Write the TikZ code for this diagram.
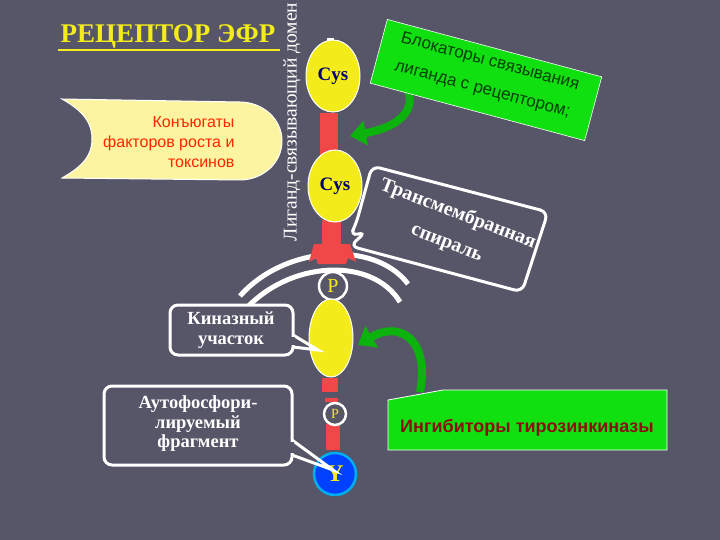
\documentclass[tikz,border=0pt]{standalone}
\usepackage{fontspec}
\setmainfont{Liberation Serif}
\newfontfamily\sansf{Liberation Sans}
\usetikzlibrary{arrows.meta,shapes.geometric,calc}
\definecolor{bg}{HTML}{565668}
\definecolor{ylw}{HTML}{F4EC1A}
\definecolor{pale}{HTML}{FCF4A0}
\definecolor{rd}{HTML}{F04848}
\definecolor{grn}{HTML}{10E010}
\definecolor{dred}{HTML}{8A1010}
\begin{document}
\begin{tikzpicture}[x=1pt,y=-1pt,
  cys/.style={ellipse,fill=ylw,draw=white,line width=1pt,minimum width=54pt,minimum height=72pt,inner sep=0pt,font=\bfseries\fontsize{19}{19}\selectfont,text=blue!40!black},
  pcirc/.style={circle,draw=white,line width=2.5pt,fill=bg,text=ylw,inner sep=0pt},
  callout/.style={draw=white,line width=3pt,fill=bg,rounded corners=8pt},
  calltext/.style={text=white,font=\bfseries\fontsize{18.5}{19.5}\selectfont,align=center},
  bar/.style={fill=rd},
  mem/.style={draw=white,line width=5pt},
  tmtext/.style={rotate=-21,text=white,font=\bfseries\fontsize{20}{20}\selectfont},
  blktext/.style={rotate=-15,text=green!25!black,font=\sansf\fontsize{17}{17}\selectfont}
]
\useasboundingbox (0,0) rectangle (720,540);
\fill[bg] (0,0) rectangle (720,540);

% title
\node[text=ylw,font=\bfseries\fontsize{27}{27}\selectfont] (title) at (168,36) {РЕЦЕПТОР ЭФР};
\draw[ylw,line width=1.5pt] (58,50) -- (280,50);
\node[rotate=90,text=white,font=\fontsize{19.5}{19.5}\selectfont] (vlab) at (292,122) {Лиганд-связывающий домен};

% yellow callout
\draw[fill=pale,draw=white,line width=1pt] (62,99) -- (240,102) to[out=0,in=90] (282,141) to[out=-90,in=0] (240,180) -- (62,178) to[out=30,in=-90] (92,139) to[out=90,in=-30] cycle;
\node[text=red!70!orange,font=\sansf\fontsize{16}{20}\selectfont,align=right,anchor=east] (conj) at (238,142) {Конъюгаты\\факторов роста и\\токсинов};

% membrane
\draw[mem] (240,296) .. controls (285,245) and (375,240) .. (408,284);
\draw[mem] (243,312) .. controls (288,260) and (372,256) .. (400,302);

% stem
\fill[white] (327,38) rectangle (334,56);
\fill[bar] (320,113) rectangle (338,160);
\fill[bar] (322,220) rectangle (341,252);
\fill[rd] (314,244) -- (350,244) -- (356,262) -- (348,258) -- (346,264) -- (318,264) -- (316,258) -- (309,262) -- cycle;
\node[cys] (cys1) at (333,76) {Cys};
\node[cys] (cys2) at (335,186) {Cys};
\node[pcirc,minimum size=28pt,font=\fontsize{20}{20}\selectfont] (p1) at (333,286) {P};
\fill[bar] (322,378) rectangle (338,392);
\fill[bar] (325,398) rectangle (338,402);
\fill[bar] (326,424) rectangle (340,450);
\node[ellipse,fill=ylw,draw=white,line width=1pt,minimum width=44pt,minimum height=78pt] (kin) at (331,338) {};
\node[pcirc,minimum size=22pt,font=\fontsize{14}{14}\selectfont] (p2) at (335,414) {P};
\node[circle,fill=blue!75!cyan,draw=cyan,line width=2.5pt,minimum size=42pt,inner sep=0pt,text=ylw,font=\bfseries\fontsize{24}{24}\selectfont] (yc) at (335,474) {Y};

% transmembrane callout
\draw[callout,fill=bg] (372,166) -- (548,212) -- (522,292) -- (350,246) -- (366,232) -- (350,236) -- (356,224) -- cycle;
\node[tmtext] (tm1) at (458,214) {Трансмембранная};
\node[tmtext] (tm2) at (446,245) {спираль};

% top green box
\draw[grn!80!black,line width=8pt,-{Triangle[width=24pt,length=16pt]}] (400,78) .. controls (420,100) and (410,125) .. (350,136);
\node[fill=grn,draw=white,line width=0.6pt,rotate=-15,minimum width=222pt,minimum height=66pt] (blk) at (486,80) {};
\node[blktext] (blk1) at (490,62) {Блокаторы связывания};
\node[blktext] (blk2) at (482,91) {лиганда с рецептором;};

% kinase callout
\draw[callout] (170,305) rectangle (293,355);
\draw[white,line width=3pt] (293,335) -- (318,350) -- (293,347);
\fill[bg] (291,337) rectangle (295,345);
\node[calltext] (kinl) at (231,330) {Киназный\\участок};

% autophos callout
\draw[callout] (104,386) rectangle (292,465);
\draw[white,line width=3pt] (292,440) -- (333,470) -- (292,455);
\fill[bg] (290,442) rectangle (294,453);
\node[calltext] (autol) at (198,424) {Аутофосфори-\\лируемый\\фрагмент};

% inhibitor box
\draw[grn!80!black,line width=8pt,-{Triangle[width=24pt,length=16pt]}] (420,392) .. controls (430,340) and (400,320) .. (358,345);
\draw[fill=grn,draw=white,line width=0.8pt] (388,400) -- (443,390) -- (667,390) -- (667,450) -- (388,450) -- cycle;
\node[text=dred,font=\sansf\bfseries\fontsize{18}{18}\selectfont] (inh) at (527,428) {Ингибиторы тирозинкиназы};
\end{tikzpicture}
\end{document}
